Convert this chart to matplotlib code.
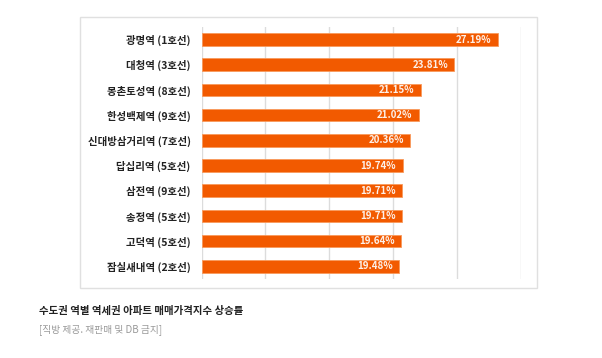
import matplotlib.pyplot as plt
from matplotlib.patches import Rectangle

plt.rcParams['font.family'] = ['Noto Sans CJK KR', 'DejaVu Sans']

# 역세권 아파트 매매가격지수 상승률 (%)
stations = ["광명역 (1호선)", "대청역 (3호선)", "몽촌토성역 (8호선)", "한성백제역 (9호선)",
            "신대방삼거리역 (7호선)", "답십리역 (5호선)", "삼전역 (9호선)", "송정역 (5호선)",
            "고덕역 (5호선)", "잠실새내역 (2호선)"]
rates = [27.19, 23.81, 21.15, 21.02, 20.36, 19.74, 19.71, 19.71, 19.64, 19.48]
title = "수도권 역별 역세권 아파트 매매가격지수 상승률"
source = "[직방 제공. 재판매 및 DB 금지]"

fig = plt.figure(figsize=(6.02, 3.58), dpi=100)

# outer chart frame
fig.patches.append(Rectangle((0.133, 0.1955), 0.759, 0.757, transform=fig.transFigure,
                             fill=False, edgecolor="#e0e0e0", linewidth=1))

ax = fig.add_axes([0.335, 0.2207, 0.530, 0.704])
y = list(range(len(stations)))
ax.barh(y, [r - 4 for r in rates], left=4, height=0.5, color="#f25a00",
        edgecolor="#f89a5c", linewidth=0.6, zorder=3)

for yi, r in zip(y, rates):
    ax.text(r - 0.5, yi, f"{r:.2f}%", ha="right", va="center", color="#fdf1ea",
            fontsize=7, fontweight="bold", zorder=4)

ax.set_xlim(4, 29)
ax.set_ylim(len(stations) - 0.5, -0.5)
ax.set_xticks([4, 9, 14, 19, 24, 29])
ax.set_xticklabels([])
ax.set_yticks(y)
ax.set_yticklabels(stations, fontsize=7.5, fontweight="bold", color="#222222")
ax.tick_params(axis="both", length=0, pad=8)
ax.grid(axis="x", color="#dcdcdc", linewidth=1, zorder=0)
for s in ax.spines.values():
    s.set_visible(False)

fig.text(0.065, 1 - 311 / 358, title, fontsize=7.5, fontweight="bold", color="#222222", va="center")
fig.text(0.065, 1 - 330 / 358, source, fontsize=7, color="#999999", va="center")

fig.savefig("out.png", dpi=100)
